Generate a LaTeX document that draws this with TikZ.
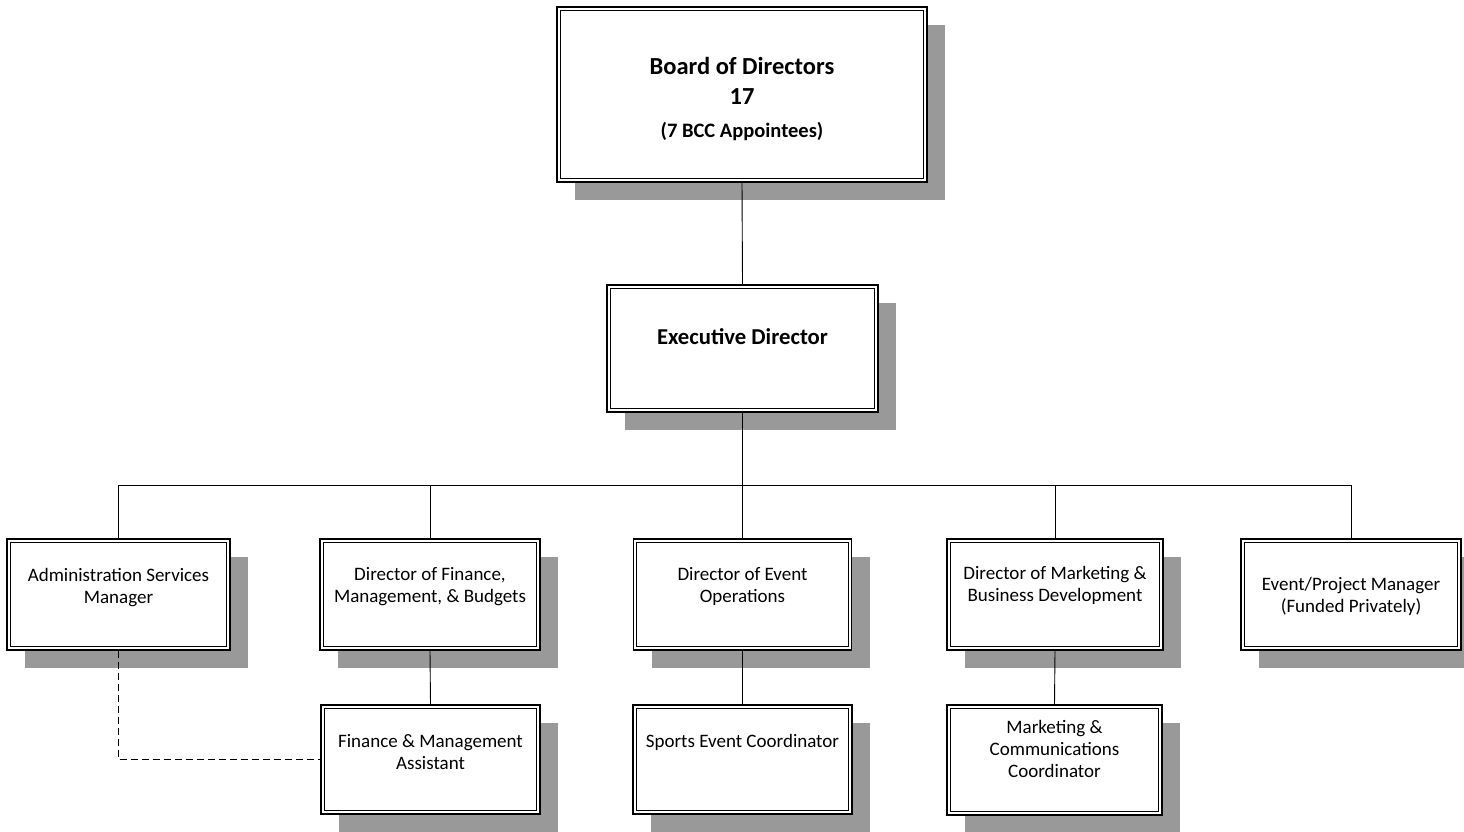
\documentclass[tikz,border=0pt]{standalone}
\usepackage{fontspec}
\setmainfont{Carlito}
\usetikzlibrary{shadows}
\newcommand{\bx}[4]{\parbox[c][#2][t]{#1}{\centering\vspace*{#3}#4\par}}
\begin{document}
\begin{tikzpicture}[x=1pt,y=1pt,
  orgbox/.style={draw, line width=1.1pt, fill=white, inner sep=0pt,
    drop shadow={shadow xshift=18pt, shadow yshift=-18pt, fill=black!40, opacity=1},
    path picture={\draw[line width=0.9pt] ([shift={(3.2pt,3.2pt)}]path picture bounding box.south west) rectangle ([shift={(-3.2pt,-3.2pt)}]path picture bounding box.north east);}},
  conn/.style={line width=0.9pt},
  small/.style={font=\fontsize{19}{22}\selectfont}]
\useasboundingbox (0,0) rectangle (1464,-831);
\fill[white] (0,0) rectangle (1464,-831);
% top
\node[orgbox] (board) at (742,-94.5) {\bx{370pt}{175pt}{50pt}{\bfseries{\fontsize{24.5}{30}\selectfont Board of Directors\\17\par}{\fontsize{20.5}{33}\selectfont (7 BCC Appointees)\par}}};
\node[orgbox] (exec) at (742.5,-348.5) {\bx{271pt}{127pt}{44pt}{\bfseries\fontsize{22.7}{26}\selectfont Executive Director}};
% second row
\node[orgbox,small] (admin) at (118.5,-594.5) {\bx{223pt}{111pt}{29pt}{Administration Services\\Manager}};
\node[orgbox,small] (fin) at (430,-594.5) {\bx{220pt}{111pt}{28pt}{Director of Finance,\\Management, \& Budgets}};
\node[orgbox,small] (ops) at (742.5,-594.5) {\bx{218pt}{111pt}{28pt}{Director of Event\\Operations}};
\node[orgbox,small] (mkt) at (1055,-594.5) {\bx{216pt}{111pt}{27pt}{Director of Marketing \&\\Business Development}};
\node[orgbox,small] (epm) at (1351,-594.5) {\bx{220pt}{111pt}{38pt}{Event/Project Manager\\(Funded Privately)}};
% third row
\node[orgbox,small] (finasst) at (430.5,-759.5) {\bx{219pt}{109pt}{29pt}{Finance \& Management\\Assistant}};
\node[orgbox,small] (sports) at (742.5,-759.5) {\bx{219pt}{109pt}{29pt}{Sports Event Coordinator}};
\node[orgbox,small] (mcc) at (1054.5,-760) {\bx{215pt}{110pt}{15pt}{Marketing \&\\Communications\\Coordinator}};
% connectors
\coordinate (bus) at (0,-485);
\draw[conn] (board.south) -- (exec.north);
\draw[conn] (exec.south) -- (exec.south |- bus);
\draw[conn] (admin.north |- bus) -- (epm.north |- bus);
\foreach \n in {admin,fin,ops,mkt,epm} \draw[conn] (\n.north |- bus) -- (\n.north);
\draw[conn] (fin.south) -- (finasst.north);
\draw[conn] (ops.south) -- (sports.north);
\draw[conn] (mkt.south) -- (mcc.north);
\draw[conn, dash pattern=on 7pt off 4pt] (admin.south) |- (finasst.west);
\end{tikzpicture}
\end{document}
